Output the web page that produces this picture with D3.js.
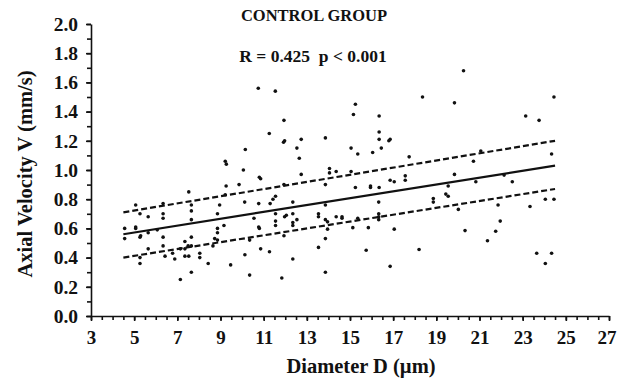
<!DOCTYPE html>
<html>
<head>
<meta charset="utf-8">
<script src="https://cdn.jsdelivr.net/npm/d3@7"></script>
<style>
  body { margin: 0; background: #fff; }
  svg text { font-family: "Liberation Serif", "Times New Roman", serif; font-weight: bold; fill: #111; }
</style>
</head>
<body>
<svg id="chart" width="617" height="381"></svg>
<script>
// diameter (um) of each vessel
const diameter = [
  4.56, 4.56, 5.07, 5.07, 5.07, 5.27, 5.27, 5.30, 5.27, 5.27, 5.65, 5.65, 5.65, 6.07, 6.34, 6.34, 6.34, 6.34, 6.34, 6.43,
  6.78, 6.88, 7.14, 7.14, 7.35, 7.35, 7.35, 7.53, 7.53, 7.50, 7.65, 7.65, 7.65, 7.65, 7.65, 7.65, 8.04, 8.04, 8.43, 8.65,
  8.86, 8.86, 8.86, 8.73, 8.86, 8.96, 9.16, 9.22, 9.22, 9.27, 9.26, 9.47, 9.86, 10.06, 10.12, 10.15, 10.13, 10.35, 10.35, 10.55,
  10.75, 10.77, 10.80, 10.86, 10.77, 10.80, 10.86, 11.26, 11.27, 11.30, 11.43, 11.54, 11.55, 11.55, 11.55, 11.55, 11.84, 11.92, 11.97, 11.94,
  11.94, 11.94, 11.97, 12.05, 12.35, 12.35, 12.35, 12.35, 12.35, 12.54, 12.54, 12.65, 12.74, 12.74,
  13.54, 13.54, 13.54, 13.86, 13.86, 13.86, 13.86, 13.96, 13.96, 13.86, 13.86, 14.05, 14.05, 14.36, 14.36, 14.63, 14.63, 15.05, 15.05, 15.16,
  15.25, 15.25, 15.13, 15.36, 15.36, 15.75, 15.85, 15.95, 15.95, 16.05, 16.35, 16.35, 16.35, 16.35, 16.33, 16.33, 16.33, 16.33, 16.45, 16.80,
  16.86, 16.86, 16.86, 17.05, 17.05, 17.56, 17.56, 17.74,
  18.20, 18.36, 18.86, 18.86, 19.44, 19.55, 19.55, 19.84, 19.84, 20.02, 20.26, 20.33, 20.72, 20.83, 21.06, 21.37, 21.75, 21.86, 21.96, 22.14,
  22.52, 23.14, 23.34, 23.65, 23.76, 24.05, 24.05, 24.34, 24.34, 24.45, 24.45
];
// axial velocity (mm/s), same order
const velocity = [
  0.60, 0.53, 0.76, 0.61, 0.60, 0.70, 0.54, 0.55, 0.40, 0.36, 0.68, 0.57, 0.46, 0.59, 0.77, 0.70, 0.67, 0.54, 0.48, 0.41,
  0.43, 0.39, 0.46, 0.25, 0.51, 0.41, 0.46, 0.85, 0.41, 0.48, 0.76, 0.72, 0.66, 0.54, 0.48, 0.30, 0.43, 0.40, 0.36, 0.48,
  0.70, 0.60, 0.57, 0.53, 0.52, 0.76, 0.62, 0.83, 1.06, 1.04, 0.89, 0.35, 0.90, 1.00, 0.78, 1.14, 0.42, 0.52, 0.28, 0.67,
  1.56, 0.77, 0.95, 0.94, 0.61, 0.60, 0.46, 1.25, 0.44, 0.77, 0.80, 1.54, 0.82, 0.70, 0.65, 0.62, 0.26, 1.19, 1.20, 1.34,
  0.90, 0.55, 0.68, 0.69, 0.78, 0.70, 0.64, 0.62, 0.39, 1.15, 0.66, 1.08, 1.21, 0.97,
  0.70, 0.68, 0.47, 1.22, 0.90, 0.76, 0.66, 0.645, 0.595, 0.53, 0.30, 1.01, 0.98, 0.99, 0.68, 0.68, 0.67, 1.15, 0.99, 1.38,
  1.45, 0.88, 0.605, 1.11, 0.67, 0.45, 0.605, 0.89, 0.88, 1.12, 1.37, 1.26, 1.21, 0.88, 0.78, 0.70, 0.68, 0.66, 1.15, 1.20,
  1.21, 0.93, 0.34, 0.92, 0.595, 0.96, 0.93, 1.09,
  0.455, 1.50, 0.805, 0.78, 0.835, 0.82, 0.89, 1.46, 0.97, 0.73, 1.68, 0.585, 1.06, 0.92, 1.13, 0.515, 0.58, 0.76, 0.65, 0.965,
  0.92, 1.37, 0.75, 0.43, 1.34, 0.80, 0.36, 1.11, 0.43, 1.50, 0.80
];

// regression line and its confidence band, at the ends of the data range
const fitX = [4.5, 24.5];
const fitY = [0.56, 1.03];
const upperY = [0.71, 1.20];
const lowerY = [0.40, 0.87];

const xMajor = [3, 5, 7, 9, 11, 13, 15, 17, 19, 21, 23, 25, 27];
const yMajor = [0, 0.2, 0.4, 0.6, 0.8, 1.0, 1.2, 1.4, 1.6, 1.8, 2.0];

const svg = d3.select('#chart');
const ink = '#111';

const x = d3.scaleLinear().domain([3, 27]).range([91, 609]);
const y = d3.scaleLinear().domain([0, 2]).range([316, 24]);

// minor ticks every 0.5 on x, every 0.1 on y
const xMinor = d3.range(3, 27.01, 0.5);
const yMinor = d3.range(0, 2.001, 0.1);

// Y axis
svg.append('g')
  .attr('transform', 'translate(' + x(3) + ',0)')
  .call(d3.axisLeft(y).tickValues(yMinor).tickSize(4).tickSizeOuter(0).tickFormat(''))
  .call(g => g.selectAll('line, path').attr('stroke', ink).attr('stroke-width', 1.6));
svg.append('g')
  .attr('transform', 'translate(' + x(3) + ',0)')
  .call(d3.axisLeft(y).tickValues(yMajor).tickSize(5).tickSizeOuter(0).tickPadding(8).tickFormat(d3.format('.1f')))
  .call(g => g.select('path').remove())
  .call(g => g.selectAll('line').attr('stroke', ink).attr('stroke-width', 1.6))
  .call(g => g.selectAll('text').attr('font-size', 19.5).attr('fill', ink).attr('font-family', null));

// X axis
svg.append('g')
  .attr('transform', 'translate(0,' + y(0) + ')')
  .call(d3.axisBottom(x).tickValues(xMinor).tickSize(4).tickSizeOuter(0).tickFormat(''))
  .call(g => g.selectAll('line, path').attr('stroke', ink).attr('stroke-width', 1.6));
svg.append('g')
  .attr('transform', 'translate(0,' + y(0) + ')')
  .call(d3.axisBottom(x).tickValues(xMajor).tickSize(5).tickSizeOuter(0).tickPadding(10).tickFormat(d3.format('d')))
  .call(g => g.select('path').remove())
  .call(g => g.selectAll('line').attr('stroke', ink).attr('stroke-width', 1.6))
  .call(g => g.selectAll('text').attr('font-size', 19).attr('fill', ink).attr('font-family', null))
  .call(g => g.selectAll('text').filter(d => d === 27).attr('text-anchor', 'end').attr('x', 7));

// Axis titles
svg.append('text')
  .attr('x', 361).attr('y', 373)
  .attr('text-anchor', 'middle')
  .attr('font-size', 20.5)
  .text('Diameter D (µm)');

svg.append('text')
  .attr('transform', 'translate(32,174) rotate(-90)')
  .attr('text-anchor', 'middle')
  .attr('font-size', 20.5)
  .text('Axial Velocity V (mm/s)');

// Headings
svg.append('text')
  .attr('x', 314).attr('y', 21)
  .attr('text-anchor', 'middle')
  .attr('font-size', 16.5)
  .text('CONTROL GROUP');

svg.append('text')
  .attr('x', 313).attr('y', 62)
  .attr('text-anchor', 'middle')
  .attr('font-size', 17.5)
  .attr('xml:space', 'preserve')
  .text('R = 0.425  p < 0.001');

// Lines
const line = d3.line().x(d => x(d[0])).y(d => y(d[1]));
const lines = [
  {ys: fitY, dash: null},
  {ys: upperY, dash: '6,3'},
  {ys: lowerY, dash: '6,3'}
];
svg.append('g').selectAll('path')
  .data(lines)
  .enter()
  .append('path')
  .attr('d', d => line(fitX.map((v, i) => [v, d.ys[i]])))
  .attr('fill', 'none')
  .attr('stroke', ink)
  .attr('stroke-width', 2.2)
  .attr('stroke-dasharray', d => d.dash);

// Dots
svg.append('g').selectAll('circle')
  .data(diameter.map((d, i) => [d, velocity[i]]))
  .enter()
  .append('circle')
  .attr('cx', d => x(d[0]))
  .attr('cy', d => y(d[1]))
  .attr('r', 1.8)
  .attr('fill', ink);
</script>
</body>
</html>
